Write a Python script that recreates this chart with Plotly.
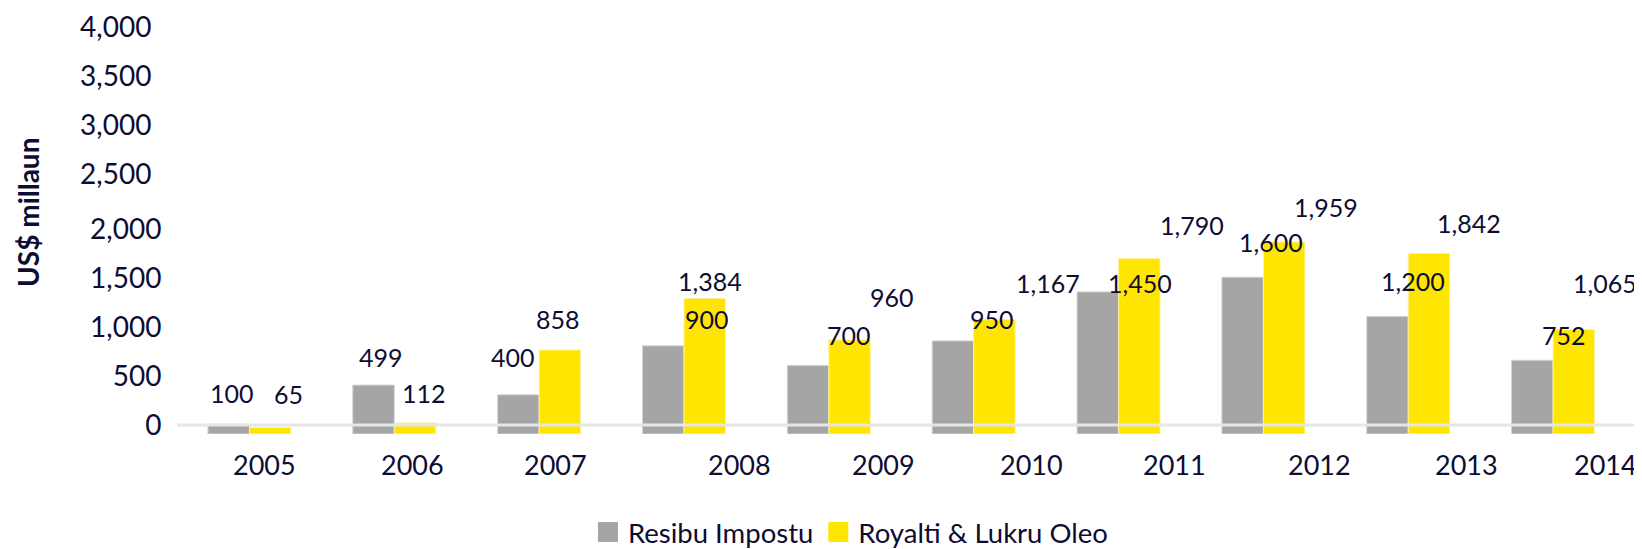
import plotly.graph_objects as go

years = ["2005", "2006", "2007", "2008", "2009", "2010", "2011", "2012", "2013", "2014"]
resibu_impostu = [100, 499, 400, 900, 700, 950, 1450, 1600, 1200, 752]
royalti_lukru = [65, 112, 858, 1384, 960, 1167, 1790, 1959, 1842, 1065]
y_ticks_low = [0, 500, 1000, 1500, 2000]
y_ticks_high = [2500, 3000, 3500, 4000]

# label offsets (pixels) relative to category centre / bar top, as in the original picture
gray_dx = [-17, -13, -26, 23, 20, 18, 21, 8, 5, 11]
gray_dy = [31, 28, 38, 27, 30, 22, 9, 35, 35, 25]
yel_dx = [39, 30, 19, 26, 63, 74, 73, 63, 61, 52]
yel_dy = [34, 30, 31, 17, 43, 37, 34, 35, 30, 47]
year_dx = [15, 18, 16, 56, 55, 58, 56, 56, 58, 52]

NAVY = "#0d0d33"
GRAY = "#a5a5a5"
YELLOW = "#ffe600"
FONT = "Lato"

fig = go.Figure()
fig.add_trace(go.Bar(x=years, y=resibu_impostu, name="Resibu Impostu",
                     marker=dict(color=GRAY, line=dict(color="#d4d4d4", width=1)),
                     showlegend=False))
fig.add_trace(go.Bar(x=years, y=royalti_lukru, name="Royalti & Lukru Oleo",
                     marker=dict(color=YELLOW, line=dict(color="#fff2a0", width=1)),
                     showlegend=False))
# invisible trace so the second (upper-tick) y axis is drawn
fig.add_trace(go.Scatter(x=years, y=royalti_lukru, yaxis="y2", mode="none",
                         showlegend=False, hoverinfo="skip"))
# legend entries with larger square symbols
fig.add_trace(go.Scatter(x=[None], y=[None], mode="markers", name="Resibu Impostu",
                         marker=dict(symbol="square", size=16, color=GRAY,
                                     line=dict(color=GRAY, width=4))))
fig.add_trace(go.Scatter(x=[None], y=[None], mode="markers", name="Royalti & Lukru Oleo",
                         marker=dict(symbol="square", size=16, color=YELLOW,
                                     line=dict(color=YELLOW, width=4))))

ann = []
for i, yr in enumerate(years):
    ann.append(dict(x=i, y=resibu_impostu[i], xref="x", yref="y", text=f"{resibu_impostu[i]:,}",
                    showarrow=False, xanchor="center", yanchor="middle",
                    xshift=gray_dx[i], yshift=gray_dy[i],
                    font=dict(family=FONT, size=25, color=NAVY)))
    ann.append(dict(x=i, y=royalti_lukru[i], xref="x", yref="y", text=f"{royalti_lukru[i]:,}",
                    showarrow=False, xanchor="center", yanchor="middle",
                    xshift=yel_dx[i], yshift=yel_dy[i],
                    font=dict(family=FONT, size=25, color=NAVY)))
    ann.append(dict(x=i, y=0, xref="x", yref="y", text=yr, showarrow=False,
                    xanchor="center", yanchor="middle", xshift=year_dx[i], yshift=-30,
                    font=dict(family=FONT, size=27, color=NAVY)))
ann.append(dict(x=-0.1015, y=0.565, xref="paper", yref="paper", text="<b>US$ millaun</b>",
                textangle=-90, showarrow=False, xanchor="center", yanchor="middle",
                font=dict(family=FONT, size=28, color=NAVY)))

fig.update_layout(
    width=1642, height=549,
    margin=dict(l=169, r=0, t=34, b=115),
    paper_bgcolor="white", plot_bgcolor="white",
    barmode="group", bargap=0.427, bargroupgap=0,
    font=dict(family=FONT, color=NAVY),
    xaxis=dict(type="category", range=[-0.5, 9.669], showticklabels=False, automargin=False,
               showgrid=False, zeroline=False, showline=False, ticks=""),
    yaxis=dict(range=[0, 4000], tickvals=y_ticks_low, ticktext=[f"{v:,}" for v in y_ticks_low],
               showgrid=False, zeroline=False, showline=False, automargin=False,
               ticks="outside", ticklen=9, tickcolor="rgba(0,0,0,0)",
               ticklabelshift=-9,
               tickfont=dict(family=FONT, size=28, color=NAVY)),
    yaxis2=dict(range=[0, 4000], overlaying="y", side="left", automargin=False,
                tickvals=y_ticks_high, ticktext=[f"{v:,}" for v in y_ticks_high],
                showgrid=False, zeroline=False, showline=False,
                ticks="outside", ticklen=19, tickcolor="rgba(0,0,0,0)",
                ticklabelshift=-15,
                tickfont=dict(family=FONT, size=28, color=NAVY)),
    legend=dict(orientation="h", x=0.279, xanchor="left", y=-0.25, yanchor="middle",
                font=dict(family=FONT, size=27.5, color=NAVY), bgcolor="rgba(0,0,0,0)"),
    annotations=ann,
    shapes=[dict(type="line", xref="paper", x0=0, x1=1, yref="y", ysizemode="pixel",
                 yanchor=0, y0=9, y1=9, line=dict(color="#e6e6e6", width=3), layer="above")],
)

fig.write_html("out.html")
